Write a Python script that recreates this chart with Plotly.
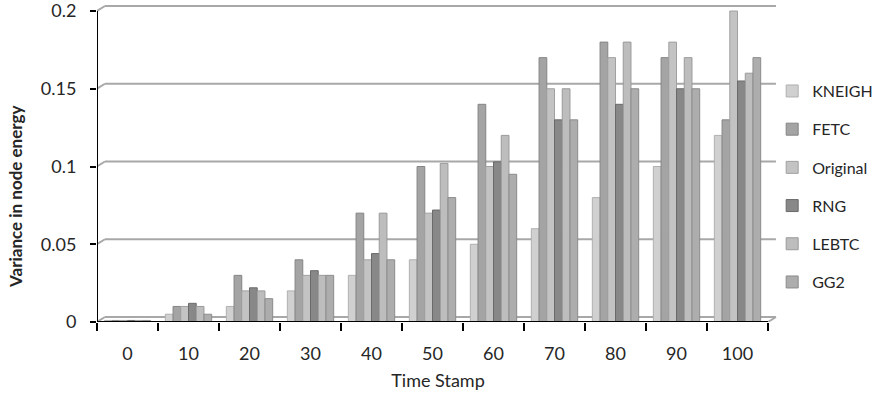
import plotly.graph_objects as go

# Time stamps on the category axis
time_stamps = ["0", "10", "20", "30", "40", "50", "60", "70", "80", "90", "100"]

# Variance in node energy for each topology-control scheme
kneigh = [0.001, 0.005, 0.010, 0.020, 0.030, 0.040, 0.050, 0.060, 0.080, 0.100, 0.120]
fetc = [0.001, 0.010, 0.030, 0.040, 0.070, 0.100, 0.140, 0.170, 0.180, 0.170, 0.130]
original = [0.001, 0.010, 0.020, 0.030, 0.040, 0.070, 0.100, 0.150, 0.170, 0.180, 0.200]
rng = [0.001, 0.012, 0.022, 0.033, 0.044, 0.072, 0.103, 0.130, 0.140, 0.150, 0.155]
lebtc = [0.001, 0.010, 0.020, 0.030, 0.070, 0.102, 0.120, 0.150, 0.180, 0.170, 0.160]
gg2 = [0.001, 0.005, 0.015, 0.030, 0.040, 0.080, 0.095, 0.130, 0.150, 0.150, 0.170]

series_names = ["KNEIGH", "FETC", "Original", "RNG", "LEBTC", "GG2"]
series_values = [kneigh, fetc, original, rng, lebtc, gg2]

# y-axis ticks
y_ticks = [0, 0.05, 0.1, 0.15, 0.2]
y_tick_text = ["0", "0.05", "0.1", "0.15", "0.2"]

fills = ["#d0d0d0", "#a4a4a4", "#c3c3c3", "#888888", "#bdbdbd", "#adadad"]
edges = ["#b0b0b0", "#858585", "#a0a0a0", "#6a6a6a", "#9a9a9a", "#8c8c8c"]

FONT = "Lato"
TEXT = "#262626"

fig = go.Figure()
for i, (name, vals) in enumerate(zip(series_names, series_values)):
    fig.add_trace(go.Bar(
        x=list(range(len(time_stamps))), y=vals, name=name, legendgroup=name,
        marker=dict(color=fills[i], line=dict(color=edges[i], width=1)),
    ))

# Pseudo-3D frame: back-wall gridlines pushed slightly up and right
dx, dy = 0.13, 0.0032
n = len(time_stamps)
x0, x1 = -0.5, n - 0.5
y_top = y_ticks[-1]
wall = "#a8a8a8"
shapes = []
for v in y_ticks:
    shapes.append(dict(type="line", xref="x", yref="y", layer="below",
                       x0=x0 + dx, x1=x1 + dx, y0=v + dy, y1=v + dy,
                       line=dict(color=wall, width=2)))
    shapes.append(dict(type="line", xref="x", yref="y", layer="below",
                       x0=x0, x1=x0 + dx, y0=v, y1=v + dy,
                       line=dict(color=wall, width=2)))
shapes.append(dict(type="line", xref="x", yref="y", layer="below",
                   x0=x1, x1=x1 + dx, y0=0, y1=dy,
                   line=dict(color=wall, width=2)))
# Front axes: value axis up to the top tick, category axis along the floor
shapes.append(dict(type="line", xref="x", yref="y", layer="above",
                   x0=x0, x1=x0, y0=0, y1=y_top,
                   line=dict(color="black", width=2)))
shapes.append(dict(type="line", xref="x", yref="y", layer="above",
                   x0=x0, x1=x1, y0=0, y1=0,
                   line=dict(color="black", width=2)))

fig.update_layout(
    width=888, height=397,
    margin=dict(l=97, r=109, t=0, b=75),
    paper_bgcolor="white", plot_bgcolor="white",
    barmode="group", bargap=0.24, bargroupgap=0,
    font=dict(family=FONT, size=18, color=TEXT),
    shapes=shapes,
    legend=dict(
        x=0.990, xanchor="left", y=0.770, yanchor="top",
        font=dict(family=FONT, size=16, color=TEXT),
        tracegroupgap=14.4, itemwidth=30,
        bgcolor="rgba(0,0,0,0)",
    ),
    annotations=[dict(
        text="Variance in node energy", textangle=-90,
        xref="paper", yref="paper", x=-82 / 682, y=125 / 322,
        xanchor="center", yanchor="middle", showarrow=False,
        font=dict(family=FONT, size=17, color=TEXT, weight="bold"),
    )],
    xaxis=dict(
        range=[x0, x1 + dx + 0.05],
        tickmode="array", tickvals=list(range(n)), ticktext=time_stamps,
        ticks="", showline=False, showgrid=False, zeroline=False,
        ticklabelstandoff=19,
        tickfont=dict(family=FONT, size=18, color=TEXT),
        title=dict(text="Time Stamp", standoff=11,
                   font=dict(family=FONT, size=18, color=TEXT)),
        minor=dict(tickmode="array", tickvals=[k - 0.5 for k in range(n + 1)],
                   ticks="outside", ticklen=8, tickwidth=1.5, tickcolor="black",
                   showgrid=False),
    ),
    yaxis=dict(
        range=[0, y_top + 11 / 1555],
        tickvals=y_ticks, ticktext=y_tick_text,
        showline=False, ticklabeloverflow="allow",
        ticks="outside", ticklen=6, tickwidth=1.5, tickcolor="black",
        showgrid=False, zeroline=False, ticklabelstandoff=10,
        tickfont=dict(family=FONT, size=18, color=TEXT),
    ),
)

fig.write_html("out.html")
